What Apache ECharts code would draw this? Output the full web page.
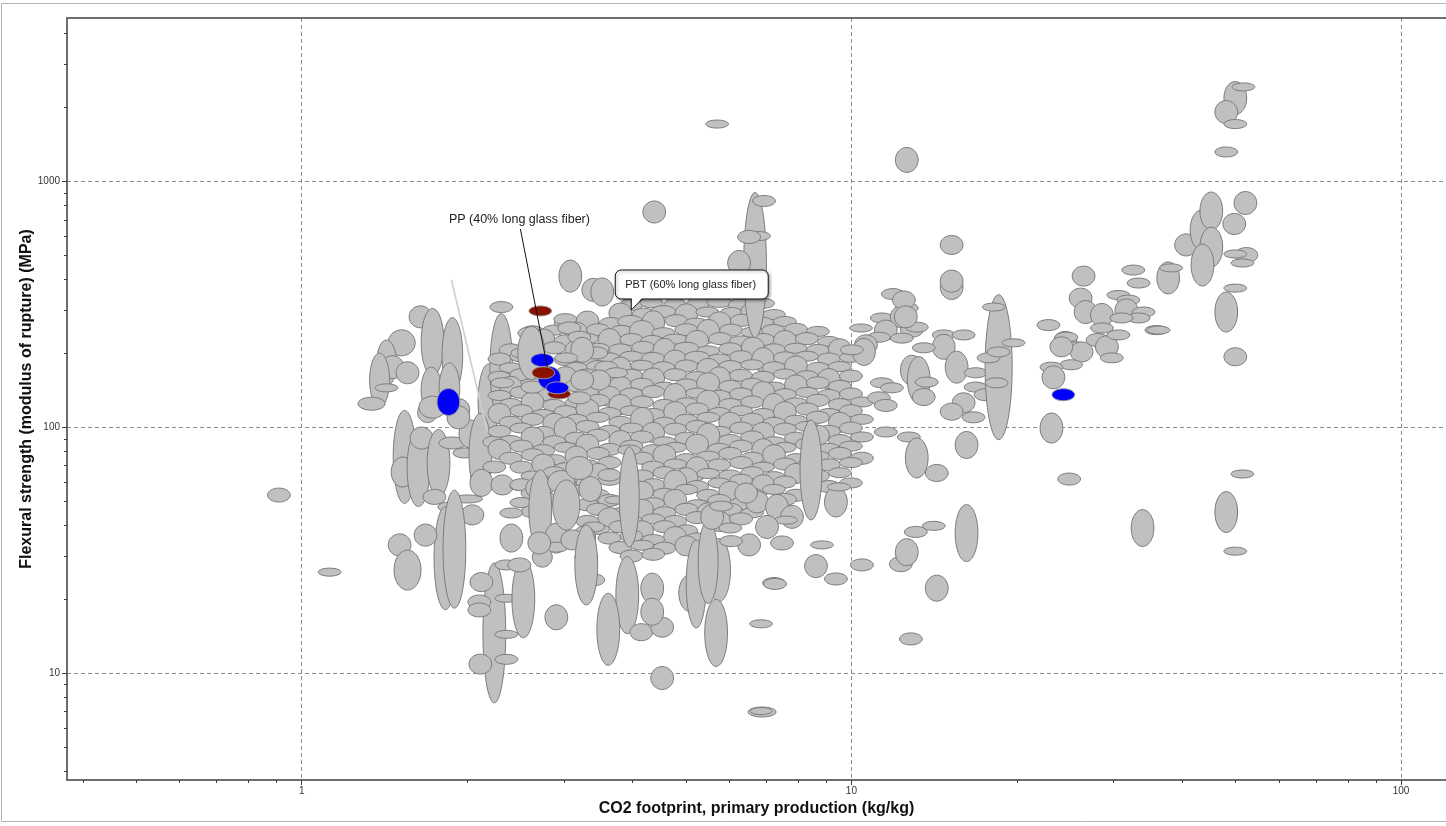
<!DOCTYPE html>
<html>
<head>
<meta charset="utf-8">
<script src="https://cdn.jsdelivr.net/npm/echarts@6/dist/echarts.min.js"></script>
<style>
  html, body { margin: 0; padding: 0; background: #fff; }
  #chart { width: 1446px; height: 826px; }
</style>
</head>
<body>
<div id="chart"></div>
<script>
// Axis extents and tick positions (log-log property chart)
const xRange = [0.3742, 120.7];
const yRange = [3.681, 4634];
const xMajorTicks = [1, 10, 100];
const xMinorTicks = [0.4, 0.5, 0.6, 0.7, 0.8, 0.9, 2, 3, 4, 5, 6, 7, 8, 9, 20, 30, 40, 50, 60, 70, 80, 90];
const yMajorTicks = [10, 100, 1000];
const yMinorTicks = [4, 5, 6, 7, 8, 9, 20, 30, 40, 50, 60, 70, 80, 90, 200, 300, 400, 500, 600, 700, 800, 900, 2000, 3000, 4000];

// Each grade: [CO2 footprint (kg/kg), flexural strength (MPa), CO2 max/min ratio, strength max/min ratio]
const clusterWest = [
  [0.909, 53.1, 1.1, 1.14], [1.124, 25.8, 1.1, 1.078],
  [1.645, 282, 1.1, 1.229], [1.73, 223, 1.1, 1.874], [1.88, 197, 1.09, 2.02], [1.52, 221, 1.12, 1.276],
  [1.427, 183, 1.087, 1.539], [1.463, 176, 1.1, 1.24], [1.558, 167, 1.1, 1.229], [1.386, 156, 1.087, 1.658],
  [1.427, 145, 1.1, 1.078], [1.34, 125, 1.12, 1.13], [1.722, 142, 1.09, 1.539], [1.857, 145, 1.09, 1.597],
  [1.694, 115, 1.087, 1.206], [1.936, 118, 1.09, 1.229], [2.186, 127, 1.09, 2.038], [2.308, 176, 1.1, 2.725],
  [2.308, 309, 1.1, 1.108], [1.539, 75.9, 1.1, 2.389], [1.526, 65.9, 1.1, 1.325], [1.631, 68.4, 1.1, 2.057],
  [1.652, 90.6, 1.1, 1.229], [1.774, 71.7, 1.1, 1.874], [1.88, 86.5, 1.12, 1.119], [1.977, 78.8, 1.1, 1.098],
  [2.027, 94.1, 1.1, 1.3], [1.928, 110, 1.1, 1.24], [1.73, 121, 1.12, 1.229], [2.114, 77.3, 1.1, 2.175],
  [2.241, 87.3, 1.1, 1.119], [2.241, 69.1, 1.1, 1.119], [2.123, 59.5, 1.1, 1.288], [2.318, 58.4, 1.1, 1.206],
  [2.51, 57.3, 1.1, 1.068], [1.744, 52.2, 1.1, 1.151], [1.857, 47.5, 1.1, 1.098], [2.002, 51.2, 1.134, 1.078],
  [2.044, 44.1, 1.1, 1.206], [1.857, 41.3, 1.1, 1.173], [1.857, 37.2, 1.1, 1.288], [1.826, 29.4, 1.1, 2.624],
  [1.896, 32.0, 1.1, 3.02], [1.507, 33.3, 1.1, 1.229], [1.68, 36.5, 1.1, 1.229], [1.558, 26.3, 1.12, 1.455]
];

// Dense block of thermoplastic grades, listed roughly band by band in strength
const clusterCore = [
  [3.98, 316, 1.1, 1.119], [4.33, 322, 1.1, 1.098], [4.78, 314, 1.1, 1.14], [5.27, 319, 1.1, 1.119], [5.75, 323, 1.11, 1.098], [6.27, 315, 1.1, 1.119], [6.91, 320, 1.1, 1.098],
  [3.80, 292, 1.1, 1.206], [4.19, 289, 1.1, 1.119], [4.55, 296, 1.11, 1.119], [5.01, 290, 1.1, 1.206], [5.47, 295, 1.1, 1.098], [6.05, 291, 1.1, 1.119], [6.60, 294, 1.1, 1.206], [7.23, 288, 1.1, 1.098],
  [3.02, 266, 1.1, 1.098], [3.31, 271, 1.1, 1.206], [3.65, 265, 1.1, 1.119], [3.96, 270, 1.11, 1.119], [4.36, 267, 1.1, 1.25], [4.80, 272, 1.1, 1.119], [5.22, 266, 1.1, 1.098], [5.75, 269, 1.1, 1.206], [6.32, 273, 1.1, 1.119], [6.88, 266, 1.1, 1.119], [7.57, 270, 1.1, 1.098],
  [2.63, 245, 1.1, 1.119], [2.88, 249, 1.1, 1.098], [3.16, 244, 1.1, 1.206], [3.46, 250, 1.1, 1.119], [3.82, 246, 1.1, 1.119], [4.16, 248, 1.11, 1.206], [4.55, 243, 1.1, 1.098], [5.01, 250, 1.1, 1.119], [5.49, 246, 1.1, 1.25], [6.04, 249, 1.1, 1.119], [6.60, 244, 1.1, 1.098], [7.21, 248, 1.1, 1.119], [7.93, 251, 1.1, 1.119], [8.69, 246, 1.1, 1.098],
  [2.75, 229, 1.1, 1.206], [3.02, 225, 1.1, 1.119], [3.31, 230, 1.1, 1.098], [3.63, 226, 1.1, 1.25], [3.98, 228, 1.1, 1.119], [4.34, 224, 1.1, 1.119], [4.78, 229, 1.11, 1.098], [5.24, 226, 1.1, 1.206], [5.77, 230, 1.1, 1.119], [6.30, 225, 1.1, 1.098], [6.91, 228, 1.1, 1.119], [7.57, 226, 1.1, 1.206], [8.30, 230, 1.1, 1.119], [9.10, 224, 1.1, 1.098],
  [2.40, 207, 1.1, 1.119], [2.88, 211, 1.1, 1.119], [3.16, 206, 1.1, 1.206], [3.46, 210, 1.1, 1.098], [3.80, 207, 1.1, 1.119], [4.18, 212, 1.1, 1.119], [4.57, 206, 1.1, 1.25], [5.01, 210, 1.11, 1.119], [5.49, 205, 1.1, 1.098], [6.02, 209, 1.1, 1.119], [6.62, 212, 1.1, 1.206], [7.23, 207, 1.1, 1.119], [7.93, 210, 1.1, 1.098], [8.69, 206, 1.1, 1.119], [9.53, 209, 1.1, 1.206],
  [2.29, 190, 1.1, 1.119], [2.51, 194, 1.1, 1.098], [3.02, 189, 1.1, 1.119], [3.31, 193, 1.1, 1.206], [3.63, 190, 1.1, 1.119], [3.98, 195, 1.1, 1.098], [4.36, 191, 1.1, 1.119], [4.78, 188, 1.1, 1.206], [5.24, 193, 1.11, 1.119], [5.75, 190, 1.1, 1.098], [6.30, 194, 1.1, 1.119], [6.91, 189, 1.1, 1.25], [7.57, 192, 1.1, 1.119], [8.30, 195, 1.1, 1.098], [9.10, 190, 1.1, 1.119], [9.98, 193, 1.1, 1.098],
  [2.40, 175, 1.1, 1.098], [2.63, 178, 1.1, 1.206], [3.16, 174, 1.1, 1.119], [3.46, 177, 1.1, 1.119], [3.80, 173, 1.1, 1.25], [4.16, 179, 1.1, 1.098], [4.55, 175, 1.1, 1.119], [5.01, 178, 1.1, 1.119], [5.49, 174, 1.1, 1.206], [6.02, 177, 1.1, 1.119], [6.60, 180, 1.1, 1.098], [7.23, 175, 1.1, 1.119], [7.93, 178, 1.1, 1.206], [8.69, 174, 1.1, 1.119], [9.53, 177, 1.1, 1.098],
  [2.29, 160, 1.1, 1.119], [2.51, 164, 1.1, 1.119], [3.02, 161, 1.1, 1.206], [3.31, 165, 1.1, 1.098], [3.63, 160, 1.1, 1.119], [3.98, 163, 1.1, 1.119], [4.36, 159, 1.1, 1.206], [4.78, 164, 1.1, 1.119], [5.24, 161, 1.1, 1.098], [5.75, 158, 1.1, 1.25], [6.30, 163, 1.1, 1.119], [6.91, 160, 1.1, 1.119], [7.57, 165, 1.1, 1.098], [8.30, 161, 1.1, 1.119], [9.10, 158, 1.1, 1.206], [9.98, 162, 1.1, 1.119],
  [2.40, 147, 1.1, 1.206], [2.63, 151, 1.1, 1.098], [3.16, 148, 1.1, 1.119], [3.46, 152, 1.1, 1.119], [3.80, 147, 1.1, 1.206], [4.16, 150, 1.1, 1.119], [4.57, 146, 1.1, 1.098], [5.01, 149, 1.1, 1.119], [5.49, 152, 1.1, 1.206], [6.02, 147, 1.1, 1.119], [6.60, 150, 1.1, 1.119], [7.23, 146, 1.1, 1.098], [7.93, 149, 1.1, 1.206], [8.69, 152, 1.1, 1.119], [9.53, 147, 1.1, 1.119],
  [2.29, 135, 1.1, 1.098], [2.51, 139, 1.1, 1.119], [2.75, 136, 1.1, 1.119], [3.31, 138, 1.1, 1.119], [3.63, 134, 1.1, 1.206], [3.98, 137, 1.1, 1.119], [4.36, 140, 1.1, 1.119], [4.78, 135, 1.1, 1.25], [5.24, 138, 1.1, 1.098], [5.75, 134, 1.1, 1.119], [6.30, 137, 1.1, 1.119], [6.91, 140, 1.1, 1.206], [7.57, 136, 1.1, 1.119], [8.30, 139, 1.1, 1.098], [9.10, 135, 1.1, 1.119], [9.98, 137, 1.1, 1.119],
  [2.40, 124, 1.1, 1.119], [2.63, 127, 1.1, 1.206], [2.88, 123, 1.1, 1.119], [3.16, 126, 1.1, 1.098], [3.46, 129, 1.1, 1.119], [3.80, 124, 1.1, 1.206], [4.16, 127, 1.1, 1.119], [4.57, 123, 1.1, 1.119], [5.01, 126, 1.1, 1.098], [5.49, 129, 1.1, 1.206], [6.02, 124, 1.1, 1.119], [6.60, 127, 1.1, 1.119], [7.23, 123, 1.1, 1.25], [7.93, 126, 1.1, 1.098], [8.69, 129, 1.1, 1.119], [9.53, 124, 1.1, 1.119], [10.45, 127, 1.1, 1.098],
  [2.29, 114, 1.1, 1.206], [2.51, 117, 1.1, 1.119], [2.75, 113, 1.1, 1.098], [3.02, 116, 1.1, 1.119], [3.31, 119, 1.1, 1.206], [3.63, 114, 1.1, 1.119], [3.98, 117, 1.1, 1.098], [4.36, 113, 1.1, 1.119], [4.78, 116, 1.1, 1.206], [5.24, 119, 1.1, 1.119], [5.75, 114, 1.1, 1.119], [6.30, 117, 1.1, 1.098], [6.91, 113, 1.1, 1.119], [7.57, 116, 1.1, 1.206], [8.30, 119, 1.1, 1.119], [9.10, 114, 1.1, 1.098], [9.98, 117, 1.1, 1.119],
  [2.40, 105, 1.1, 1.119], [2.63, 108, 1.1, 1.119], [2.88, 104, 1.1, 1.206], [3.16, 107, 1.1, 1.119], [3.46, 110, 1.1, 1.098], [3.80, 105, 1.1, 1.119], [4.16, 108, 1.1, 1.25], [4.57, 104, 1.1, 1.119], [5.01, 107, 1.1, 1.119], [5.49, 110, 1.1, 1.098], [6.02, 105, 1.1, 1.206], [6.60, 108, 1.1, 1.119], [7.23, 104, 1.1, 1.119], [7.93, 107, 1.1, 1.098], [8.69, 110, 1.1, 1.119], [9.53, 105, 1.1, 1.206], [10.45, 108, 1.1, 1.098],
  [2.29, 96.5, 1.1, 1.119], [2.51, 99.5, 1.1, 1.098], [2.75, 95.5, 1.1, 1.119], [3.02, 98.5, 1.1, 1.25], [3.31, 101, 1.1, 1.119], [3.63, 96.5, 1.1, 1.119], [3.98, 99.5, 1.1, 1.098], [4.36, 95.5, 1.1, 1.206], [4.78, 98.5, 1.1, 1.119], [5.24, 101, 1.1, 1.119], [5.75, 96.5, 1.1, 1.098], [6.30, 99.5, 1.1, 1.119], [6.91, 95.5, 1.1, 1.206], [7.57, 98.5, 1.1, 1.119], [8.30, 101, 1.1, 1.098], [9.10, 96.5, 1.1, 1.119], [9.98, 99.5, 1.1, 1.119],
  [2.40, 88.5, 1.1, 1.098], [2.63, 91.5, 1.1, 1.206], [2.88, 87.5, 1.1, 1.119], [3.16, 90.5, 1.1, 1.119], [3.46, 93, 1.1, 1.119], [3.80, 88.5, 1.1, 1.206], [4.16, 91.5, 1.1, 1.119], [4.57, 87.5, 1.1, 1.098], [5.01, 90.5, 1.1, 1.119], [5.49, 93, 1.1, 1.25], [6.02, 88.5, 1.1, 1.119], [6.60, 91.5, 1.1, 1.119], [7.23, 87.5, 1.1, 1.098], [7.93, 90.5, 1.1, 1.119], [8.69, 93, 1.1, 1.206], [9.53, 88.5, 1.1, 1.119], [10.45, 91.5, 1.1, 1.098],
  [2.29, 81.5, 1.1, 1.206], [2.51, 84, 1.1, 1.119], [2.75, 80.5, 1.1, 1.119], [3.02, 83, 1.1, 1.098], [3.31, 85.5, 1.1, 1.206], [3.63, 81.5, 1.1, 1.119], [3.98, 84, 1.1, 1.119], [4.36, 80.5, 1.1, 1.119], [4.78, 83, 1.1, 1.098], [5.24, 85.5, 1.1, 1.206], [5.75, 81.5, 1.1, 1.119], [6.30, 84, 1.1, 1.119], [6.91, 80.5, 1.1, 1.25], [7.57, 83, 1.1, 1.098], [8.30, 85.5, 1.1, 1.119], [9.10, 81.5, 1.1, 1.119], [9.98, 84, 1.1, 1.098],
  [2.40, 75, 1.1, 1.119], [2.63, 77.5, 1.1, 1.119], [2.88, 74, 1.1, 1.098], [3.16, 76.5, 1.1, 1.206], [3.46, 78.5, 1.1, 1.119], [4.16, 75, 1.1, 1.119], [4.57, 77.5, 1.1, 1.206], [5.01, 74, 1.1, 1.119], [5.49, 76.5, 1.1, 1.098], [6.02, 78.5, 1.1, 1.119], [6.60, 75, 1.1, 1.119], [7.23, 77.5, 1.1, 1.206], [7.93, 74, 1.1, 1.119], [8.69, 76.5, 1.1, 1.098], [9.53, 78.5, 1.1, 1.119], [10.45, 75, 1.1, 1.119],
  [2.51, 69, 1.1, 1.119], [2.75, 71, 1.1, 1.206], [3.02, 68, 1.1, 1.119], [3.31, 70.5, 1.1, 1.098], [3.63, 72, 1.1, 1.119], [4.36, 69, 1.1, 1.119], [4.78, 71, 1.1, 1.098], [5.24, 68, 1.1, 1.25], [5.75, 70.5, 1.1, 1.119], [6.30, 72, 1.1, 1.119], [6.91, 69, 1.1, 1.098], [7.57, 71, 1.1, 1.119], [8.30, 68, 1.1, 1.206], [9.10, 70.5, 1.1, 1.119], [9.98, 72, 1.1, 1.098],
  [2.63, 63.5, 1.1, 1.098], [2.88, 65.5, 1.1, 1.119], [3.16, 62.5, 1.1, 1.119], [3.46, 65, 1.1, 1.206], [4.16, 63.5, 1.1, 1.119], [4.57, 65.5, 1.1, 1.119], [5.01, 62.5, 1.1, 1.206], [5.49, 65, 1.1, 1.098], [6.02, 63.5, 1.1, 1.119], [6.60, 65.5, 1.1, 1.119], [7.23, 62.5, 1.1, 1.119], [7.93, 65, 1.1, 1.206], [8.69, 63.5, 1.1, 1.119], [9.53, 65.5, 1.1, 1.098],
  [2.51, 58.5, 1.1, 1.119], [2.75, 60, 1.1, 1.119], [3.02, 57.5, 1.1, 1.206], [3.31, 59.5, 1.1, 1.119], [3.63, 61, 1.1, 1.098], [4.36, 58.5, 1.1, 1.119], [4.78, 60, 1.1, 1.25], [5.24, 57.5, 1.1, 1.119], [5.75, 59.5, 1.1, 1.098], [6.30, 61, 1.1, 1.119], [6.91, 58.5, 1.1, 1.206], [7.57, 60, 1.1, 1.119], [9.10, 57.5, 1.1, 1.119], [9.98, 59.5, 1.1, 1.098],
  [2.63, 54, 1.1, 1.119], [3.16, 55.5, 1.1, 1.098], [3.46, 53, 1.1, 1.119], [4.16, 55, 1.1, 1.206], [4.57, 53.5, 1.1, 1.119], [5.01, 56, 1.1, 1.098], [5.49, 53, 1.1, 1.119], [6.02, 55, 1.1, 1.206], [6.60, 53.5, 1.1, 1.119], [7.23, 56, 1.1, 1.098], [7.93, 53, 1.1, 1.119],
  [2.51, 49.5, 1.1, 1.098], [2.75, 51, 1.1, 1.206], [3.31, 48.5, 1.1, 1.119], [3.63, 50.5, 1.1, 1.119], [4.36, 49, 1.1, 1.119], [4.78, 51, 1.1, 1.206], [5.24, 48.5, 1.1, 1.098], [5.75, 50.5, 1.1, 1.119], [6.30, 49, 1.1, 1.119], [7.57, 51, 1.1, 1.119],
  [2.63, 45.5, 1.1, 1.119], [3.46, 46.5, 1.1, 1.119], [3.80, 45, 1.1, 1.098], [4.16, 46.5, 1.1, 1.206], [4.57, 45, 1.1, 1.119], [5.01, 46.5, 1.1, 1.119], [5.49, 45, 1.1, 1.206], [6.02, 46.5, 1.1, 1.119], [6.60, 45, 1.1, 1.098],
  [3.31, 41.5, 1.1, 1.119], [3.63, 43, 1.1, 1.206], [3.98, 41.5, 1.1, 1.119], [4.36, 42.5, 1.1, 1.098], [4.78, 41.5, 1.1, 1.119], [5.24, 43, 1.1, 1.119], [5.75, 41.5, 1.1, 1.206], [6.30, 42.5, 1.1, 1.119],
  [3.46, 38.5, 1.1, 1.098], [3.80, 39.5, 1.1, 1.119], [4.16, 38, 1.1, 1.206], [4.57, 39.5, 1.1, 1.119], [5.01, 38, 1.1, 1.119], [6.02, 39, 1.1, 1.098],
  [3.63, 35.5, 1.1, 1.119], [3.98, 36.2, 1.1, 1.119], [4.36, 35, 1.1, 1.098], [4.78, 36, 1.1, 1.206], [5.24, 35.2, 1.1, 1.119],
  [3.80, 32.5, 1.1, 1.119], [4.16, 33.2, 1.1, 1.098], [4.57, 32.3, 1.1, 1.119], [5.01, 33, 1.1, 1.206],
  [3.98, 30, 1.1, 1.119], [4.36, 30.5, 1.1, 1.119],
  // grades standing out of the block
  [2.595, 242, 1.1, 1.119], [2.52, 201, 1.1, 1.098], [2.617, 201, 1.12, 1.643], [3.081, 413, 1.1, 1.35],
  [3.392, 363, 1.1, 1.24], [3.522, 356, 1.1, 1.3], [4.379, 753, 1.1, 1.229], [3.017, 276, 1.1, 1.108],
  [3.068, 254, 1.1, 1.119], [3.199, 233, 1.1, 1.119], [3.435, 201, 1.1, 1.119], [3.239, 207, 1.1, 1.264],
  [3.581, 176, 1.1, 1.119], [3.735, 167, 1.1, 1.098], [3.478, 156, 1.1, 1.206], [3.239, 156, 1.1, 1.206],
  [3.199, 132, 1.1, 1.119], [3.029, 192, 1.1, 1.098], [2.318, 152, 1.1, 1.098], [2.628, 146, 1.1, 1.119],
  [6.68, 458, 1.1, 3.89], [6.936, 835, 1.1, 1.108], [6.793, 601, 1.1, 1.088], [6.515, 596, 1.1, 1.13],
  [6.248, 467, 1.1, 1.264], [5.698, 1716, 1.1, 1.078], [8.443, 67.2, 1.096, 2.55]
];

const clusterSouth = [
  [2.407, 44.9, 1.1, 1.098], [2.407, 35.5, 1.1, 1.3], [2.706, 56.7, 1.12, 1.24], [2.717, 46.2, 1.1, 2.115],
  [2.906, 35.5, 1.1, 1.325], [2.906, 32.6, 1.1, 1.098], [2.74, 29.7, 1.087, 1.206], [2.706, 33.9, 1.1, 1.229],
  [2.906, 16.9, 1.1, 1.264], [3.392, 24.0, 1.1, 1.119], [3.294, 29.7, 1.1, 1.151], [3.392, 39.4, 1.1, 1.098],
  [3.266, 35.8, 1.1, 1.229], [3.107, 34.9, 1.1, 1.206], [2.967, 60.0, 1.12, 1.24], [3.029, 48.4, 1.12, 1.597],
  [3.35, 56.2, 1.1, 1.264], [3.199, 68.4, 1.12, 1.24], [3.627, 64.1, 1.1, 1.119], [3.735, 50.7, 1.1, 1.078],
  [3.944, 81.0, 1.1, 1.098], [3.944, 52.2, 1.087, 2.55], [3.911, 20.8, 1.1, 2.057], [2.241, 14.6, 1.1, 3.71],
  [2.357, 27.6, 1.1, 1.098], [2.357, 20.2, 1.1, 1.078], [2.357, 14.4, 1.1, 1.078], [2.357, 11.4, 1.1, 1.098],
  [2.123, 23.5, 1.1, 1.195], [2.105, 19.5, 1.1, 1.14], [2.105, 18.1, 1.1, 1.14], [2.114, 10.9, 1.1, 1.206],
  [2.531, 20.1, 1.1, 2.076], [2.489, 27.6, 1.1, 1.14], [3.294, 27.6, 1.1, 2.115], [3.612, 15.1, 1.1, 1.963],
  [4.342, 22.2, 1.1, 1.325], [4.147, 14.7, 1.1, 1.173], [4.527, 15.4, 1.1, 1.206], [4.342, 17.8, 1.1, 1.288],
  [5.09, 21.2, 1.1, 1.414], [5.22, 23.1, 1.087, 2.28], [5.746, 26.3, 1.1, 1.805], [5.675, 14.6, 1.1, 1.874],
  [4.527, 9.57, 1.1, 1.24], [7.233, 23.3, 1.1, 1.108], [6.85, 15.9, 1.1, 1.078], [6.879, 6.96, 1.124, 1.098],
  [6.85, 7.02, 1.096, 1.068], [5.488, 28.4, 1.087, 2.175], [5.581, 43.3, 1.1, 1.264], [5.794, 47.9, 1.1, 1.098],
  [6.736, 49.8, 1.1, 1.229], [7.324, 47.5, 1.1, 1.264], [7.798, 43.3, 1.1, 1.24], [7.605, 42.0, 1.1, 1.078],
  [6.434, 54.1, 1.1, 1.206], [7.024, 39.4, 1.1, 1.24], [6.515, 33.3, 1.1, 1.229], [6.042, 34.5, 1.1, 1.108],
  [7.479, 33.9, 1.1, 1.14], [8.84, 33.3, 1.1, 1.078], [8.622, 27.3, 1.1, 1.24], [9.373, 24.2, 1.1, 1.119],
  [7.263, 23.1, 1.1, 1.108], [9.373, 49.8, 1.1, 1.325], [9.491, 57.3, 1.1, 1.078]
];

const clusterEast = [
  [10.45, 27.6, 1.1, 1.119], [12.3, 27.8, 1.1, 1.151], [12.61, 31.1, 1.1, 1.288], [13.1, 37.6, 1.1, 1.108],
  [14.12, 39.8, 1.1, 1.088], [16.2, 37.2, 1.1, 1.707], [14.3, 22.2, 1.1, 1.276], [12.83, 13.8, 1.1, 1.119],
  [12.61, 1226, 1.1, 1.264], [15.22, 553, 1.1, 1.195], [15.22, 373, 1.1, 1.264], [15.22, 394, 1.1, 1.229],
  [11.9, 349, 1.1, 1.108], [12.61, 306, 1.1, 1.108], [11.36, 279, 1.1, 1.098], [12.35, 282, 1.1, 1.229],
  [10.41, 254, 1.1, 1.078], [11.55, 249, 1.1, 1.206], [12.88, 249, 1.1, 1.14], [11.22, 233, 1.1, 1.098],
  [12.35, 231, 1.1, 1.098], [10.63, 217, 1.1, 1.206], [10.54, 203, 1.1, 1.288], [10.02, 207, 1.1, 1.098],
  [11.36, 152, 1.1, 1.098], [11.85, 145, 1.1, 1.098], [11.22, 132, 1.1, 1.119], [11.55, 123, 1.1, 1.119],
  [12.88, 171, 1.1, 1.325], [11.55, 95.9, 1.1, 1.098], [12.72, 91.5, 1.1, 1.098], [12.46, 330, 1.1, 1.184],
  [13.15, 256, 1.1, 1.098], [12.56, 282, 1.1, 1.229], [14.72, 238, 1.1, 1.098], [16.0, 238, 1.1, 1.098],
  [14.72, 213, 1.1, 1.264], [13.54, 211, 1.1, 1.098], [13.26, 156, 1.1, 1.553], [13.71, 153, 1.1, 1.098],
  [13.54, 133, 1.1, 1.173], [15.54, 176, 1.1, 1.35], [16.83, 167, 1.1, 1.098], [16.83, 146, 1.1, 1.098],
  [16.0, 126, 1.1, 1.206], [15.22, 116, 1.1, 1.173], [16.68, 110, 1.1, 1.108], [17.55, 136, 1.1, 1.119],
  [18.53, 176, 1.12, 3.89], [17.77, 192, 1.1, 1.098], [18.37, 152, 1.1, 1.098], [18.15, 309, 1.1, 1.078],
  [19.73, 221, 1.1, 1.078], [18.53, 203, 1.1, 1.098], [16.2, 84.9, 1.1, 1.288], [13.15, 75.2, 1.1, 1.455],
  [14.3, 65.3, 1.1, 1.173],
  [22.83, 261, 1.1, 1.108], [26.45, 413, 1.1, 1.206], [26.12, 336, 1.1, 1.206], [26.67, 295, 1.1, 1.24],
  [24.51, 227, 1.1, 1.173], [24.61, 233, 1.1, 1.098], [25.54, 213, 1.1, 1.098], [26.23, 203, 1.1, 1.206],
  [24.1, 213, 1.1, 1.206], [25.11, 180, 1.1, 1.098], [23.12, 176, 1.1, 1.098], [23.31, 160, 1.1, 1.24],
  [23.12, 99.5, 1.1, 1.325], [24.9, 61.7, 1.1, 1.119],
  [28.56, 287, 1.1, 1.24], [28.04, 227, 1.1, 1.13], [29.16, 213, 1.1, 1.229], [28.56, 254, 1.1, 1.098],
  [30.6, 346, 1.1, 1.088], [31.9, 330, 1.1, 1.098], [31.64, 301, 1.1, 1.229], [34.0, 295, 1.1, 1.098],
  [33.3, 279, 1.1, 1.098], [31.0, 279, 1.1, 1.098], [30.6, 238, 1.1, 1.098], [29.77, 192, 1.1, 1.098],
  [35.88, 249, 1.1, 1.088], [32.57, 437, 1.1, 1.098], [33.3, 387, 1.1, 1.098], [37.7, 406, 1.1, 1.35],
  [38.17, 446, 1.1, 1.078], [40.64, 553, 1.1, 1.229], [43.34, 636, 1.1, 1.455], [36.2, 249, 1.1, 1.078],
  [49.94, 2190, 1.1, 1.362], [51.67, 2430, 1.1, 1.078], [48.08, 1920, 1.1, 1.24], [49.94, 1716, 1.1, 1.088],
  [48.08, 1321, 1.1, 1.098], [45.16, 760, 1.1, 1.427], [52.1, 819, 1.1, 1.24], [49.73, 673, 1.1, 1.218],
  [45.16, 542, 1.1, 1.455], [43.52, 458, 1.1, 1.482], [52.32, 503, 1.1, 1.151], [49.94, 508, 1.1, 1.078],
  [51.45, 467, 1.1, 1.078], [49.94, 369, 1.1, 1.078], [48.08, 295, 1.1, 1.455], [49.94, 194, 1.1, 1.184],
  [51.45, 64.7, 1.1, 1.078], [48.08, 45.3, 1.1, 1.468], [49.94, 31.4, 1.1, 1.078], [33.86, 39.0, 1.1, 1.414]
];

// Long glass fibre grades picked out in colour: [CO2, strength, CO2 ratio, strength ratio, tone]
const highlightGrades = [
  [1.849, 127, 1.1, 1.288, 'blue'],
  [2.74, 188, 1.1, 1.13, 'blue'],
  [2.717, 298, 1.1, 1.098, 'red'],
  [2.822, 159, 1.1, 1.24, 'blue'],
  [2.752, 167, 1.1, 1.119, 'red'],
  [2.942, 137, 1.1, 1.098, 'red'],
  [2.918, 145, 1.1, 1.119, 'blue'],
  [24.3, 136, 1.1, 1.119, 'blue']
];
const toneColors = { blue: '#0000fb', red: '#8a1200' };

// Labels and guide line, anchored in data units
const ppLabel = { text: 'PP (40% long glass fiber)', from: [2.5, 642], to: [2.798, 176] };
const pbtLabel = { text: 'PBT (60% long glass fiber)', tip: [3.977, 300.6] };
const guideLine = [[1.873, 398], [2.177, 95.9]];

const FONT = '"Liberation Sans", Arial, sans-serif';

function ellipseRenderer(fill, stroke) {
  return function (params, api) {
    const c = api.value(0), s = api.value(1);
    const fx = Math.sqrt(api.value(2)), fy = Math.sqrt(api.value(3));
    const a = api.coord([c / fx, s * fy]);
    const b = api.coord([c * fx, s / fy]);
    return {
      type: 'ellipse',
      shape: {
        cx: (a[0] + b[0]) / 2, cy: (a[1] + b[1]) / 2,
        rx: Math.abs(b[0] - a[0]) / 2, ry: Math.abs(b[1] - a[1]) / 2
      },
      style: { fill: fill || api.visual('color'), stroke: stroke, lineWidth: 1 }
    };
  };
}

function gradeSeries(name, data) {
  return {
    name: name, type: 'custom', xAxisIndex: 0, yAxisIndex: 0,
    renderItem: ellipseRenderer('#c0c0c0', '#7c7c7c'),
    data: data, clip: true, silent: true, animation: false
  };
}

function renderAnnotations(params, api) {
  const children = [];
  // guide line
  const g0 = api.coord(guideLine[0]), g1 = api.coord(guideLine[1]);
  children.push({ type: 'line', shape: { x1: g0[0], y1: g0[1], x2: g1[0], y2: g1[1] },
    style: { stroke: '#cfcfcf', lineWidth: 1.6 } });
  // PP leader + label
  const p0 = api.coord(ppLabel.from), p1 = api.coord(ppLabel.to);
  children.push({ type: 'line', shape: { x1: p0[0], y1: p0[1], x2: p1[0], y2: p1[1] },
    style: { stroke: '#111', lineWidth: 1 } });
  children.push({ type: 'text', x: p0[0] - 1, y: p0[1] - 3,
    style: { text: ppLabel.text, fill: '#222', font: '12.5px ' + FONT, align: 'center', verticalAlign: 'bottom' } });
  // PBT callout
  const t = api.coord(pbtLabel.tip);
  const bx = t[0] - 16, by = t[1] - 40, bw = 153, bh = 29;
  children.push({ type: 'rect', shape: { x: bx, y: by, width: bw, height: bh, r: 6 },
    style: { fill: '#fff', stroke: '#111', lineWidth: 1,
      shadowBlur: 3, shadowOffsetX: 1.5, shadowOffsetY: 1.5, shadowColor: 'rgba(0,0,0,0.35)' } });
  children.push({ type: 'polygon', shape: { points: [[t[0] + 0.5, by + bh - 1.5], [t[0] + 11, by + bh - 1.5], [t[0] + 0.5, t[1]]] },
    style: { fill: '#fff', stroke: null } });
  children.push({ type: 'polyline', shape: { points: [[t[0], by + bh], [t[0], t[1]], [t[0] + 11, by + bh]] },
    style: { stroke: '#111', lineWidth: 1, fill: null } });
  children.push({ type: 'text', x: bx + 10, y: by + bh / 2,
    style: { text: pbtLabel.text, fill: '#222', font: '11px ' + FONT, align: 'left', verticalAlign: 'middle' } });
  return { type: 'group', children: children };
}

const axisLineColor = '#6e6e6e';
const tickColor = '#3c3c3c';

const option = {
  backgroundColor: '#ffffff',
  animation: false,
  grid: { left: 67, right: -2, top: 18, bottom: 46, show: false },
  graphic: [{
    type: 'rect', silent: true, z: -10,
    shape: { x: 1.5, y: 3.5, width: 1460, height: 818 },
    style: { fill: null, stroke: '#b2b2b2', lineWidth: 1 }
  }],
  xAxis: [
    {
      type: 'log', logBase: 10, min: xRange[0], max: xRange[1], position: 'bottom',
      axisLine: { show: true, onZero: false, lineStyle: { color: axisLineColor, width: 2 } },
      axisTick: { show: true, length: 3, customValues: xMinorTicks, lineStyle: { color: tickColor } },
      axisLabel: { show: false }, splitLine: { show: false }
    },
    {
      type: 'log', logBase: 10, min: xRange[0], max: xRange[1], position: 'bottom',
      axisLine: { show: false, onZero: false },
      axisTick: { show: true, length: 5, customValues: xMajorTicks, lineStyle: { color: tickColor } },
      axisLabel: { show: true, customValues: xMajorTicks, margin: 6, fontSize: 10, color: '#333', fontFamily: FONT,
        formatter: v => String(Math.round(v)) },
      splitLine: { show: true, lineStyle: { color: '#8c8c8c', width: 1, type: [4, 3] } },
      name: 'CO2 footprint, primary production (kg/kg)', nameLocation: 'middle', nameGap: 21, nameMoveOverlap: false,
      nameTextStyle: { fontSize: 16, fontWeight: 'bold', color: '#111', fontFamily: FONT }
    },
    {
      type: 'log', logBase: 10, min: xRange[0], max: xRange[1], position: 'top',
      axisLine: { show: true, onZero: false, lineStyle: { color: axisLineColor, width: 2 } },
      axisTick: { show: false }, axisLabel: { show: false }, splitLine: { show: false }
    }
  ],
  yAxis: [
    {
      type: 'log', logBase: 10, min: yRange[0], max: yRange[1], position: 'left',
      axisLine: { show: true, onZero: false, lineStyle: { color: axisLineColor, width: 2 } },
      axisTick: { show: true, length: 3, customValues: yMinorTicks, lineStyle: { color: tickColor } },
      axisLabel: { show: false }, splitLine: { show: false }
    },
    {
      type: 'log', logBase: 10, min: yRange[0], max: yRange[1], position: 'left',
      axisLine: { show: false, onZero: false },
      axisTick: { show: true, length: 5, customValues: yMajorTicks, lineStyle: { color: tickColor } },
      axisLabel: { show: true, customValues: yMajorTicks, margin: 7, fontSize: 10, color: '#333', fontFamily: FONT,
        formatter: v => String(Math.round(v)) },
      splitLine: { show: true, lineStyle: { color: '#8c8c8c', width: 1, type: [4, 3] } },
      name: 'Flexural strength (modulus of rupture) (MPa)', nameLocation: 'middle', nameGap: 32, nameMoveOverlap: false,
      nameTextStyle: { fontSize: 16, fontWeight: 'bold', color: '#111', fontFamily: FONT }
    }
  ],
  series: [
    gradeSeries('west', clusterWest),
    gradeSeries('core', clusterCore),
    gradeSeries('south', clusterSouth),
    gradeSeries('east', clusterEast),
    {
      name: 'highlighted', type: 'custom', xAxisIndex: 0, yAxisIndex: 0,
      renderItem: ellipseRenderer(null, '#9c9c9c'),
      data: highlightGrades.map(g => ({ value: g.slice(0, 4), itemStyle: { color: toneColors[g[4]] } })),
      clip: true, silent: true, animation: false
    },
    {
      name: 'labels', type: 'custom', xAxisIndex: 0, yAxisIndex: 0,
      renderItem: renderAnnotations, data: [[1, 100]], clip: false, silent: true, animation: false, z: 5
    }
  ]
};

const chart = echarts.init(document.getElementById('chart'), null, { renderer: 'canvas' });
chart.setOption(option);
</script>
</body>
</html>
